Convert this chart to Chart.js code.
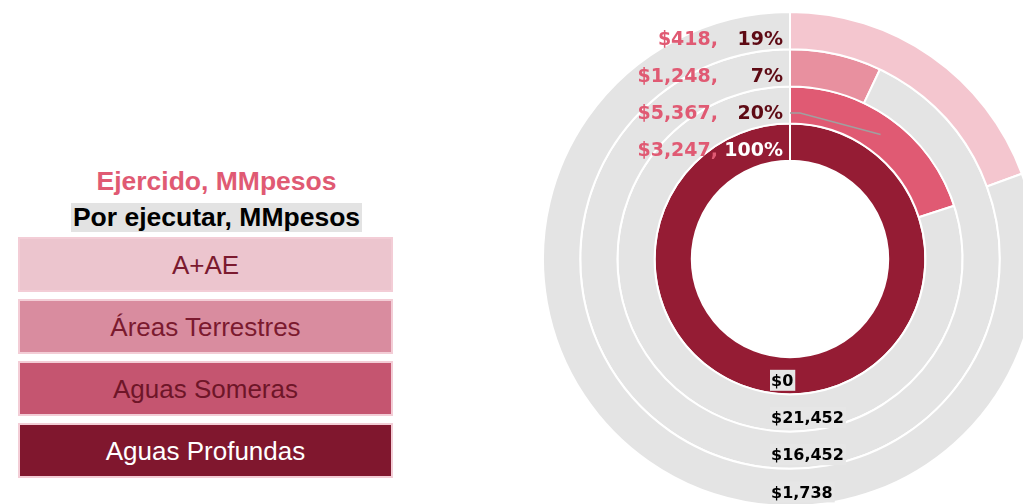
<!DOCTYPE html>
<html lang="es">
<head>
    <meta charset="UTF-8">
    <title>Ejercido vs por ejecutar</title>
    <script src="https://cdn.jsdelivr.net/npm/chart.js"></script>
    <style>
        html, body {
            margin: 0;
            padding: 0;
            width: 1023px;
            height: 504px;
            overflow: hidden;
            background: #fff;
            font-family: "Liberation Sans", Arial, sans-serif;
        }
        #titles {
            position: absolute;
            left: 40px;
            top: 165px;
            width: 353px;
        }
        #boxes {
            position: absolute;
            left: 18px;
            top: 237px;
            width: 375px;
        }
        .title1 {
            text-align: center;
            color: #e05a73;
            font-weight: bold;
            font-size: 26.5px;
            line-height: 32px;
        }
        .title2 {
            margin: 6px auto 0 auto;
            width: 291px;
            background: #e3e3e3;
            color: #000;
            font-weight: bold;
            font-size: 26.5px;
            line-height: 29px;
            text-align: center;
            white-space: nowrap;
        }
        .box {
            box-sizing: border-box;
            height: 55px;
            margin-bottom: 7px;
            border: 2px solid #f3cdd6;
            text-align: center;
            font-size: 26px;
            line-height: 52px;
        }
        #wrap {
            position: absolute;
            left: 540px;
            top: 9px;
            width: 500px;
            height: 500px;
        }
    </style>
</head>
<body>
    <div id="titles">
        <div class="title1">Ejercido, MMpesos</div>
        <div class="title2">Por ejecutar, MMpesos</div>
    </div>
    <div id="boxes"></div>
    <div id="wrap"><canvas id="rings" width="500" height="500"></canvas></div>
    <script>
        // rings from outside to inside
        const categories = ['A+AE', 'Áreas Terrestres', 'Aguas Someras', 'Aguas Profundas'];
        const ejercido = [418, 1248, 5367, 3247];
        const porEjecutar = [1738, 16452, 21452, 0];

        const ringColors = ['#f4c6cf', '#e8909f', '#e05a73', '#951c34'];
        const legendColors = ['#ecc5ce', '#d98c9f', '#c55570', '#80172e'];
        const legendText = ['#7b1a2f', '#7b1a2f', '#6e1528', '#ffffff'];
        const pctColors = ['#5e0a14', '#5e0a14', '#5e0a14', '#ffffff'];
        const grey = '#e4e4e4';
        const leaderRing = 2;

        const boxes = document.getElementById('boxes');
        categories.forEach((c, i) => {
            const d = document.createElement('div');
            d.className = 'box';
            d.style.background = legendColors[i];
            d.style.color = legendText[i];
            d.textContent = c;
            boxes.appendChild(d);
        });

        const fmt = v => '$' + v.toLocaleString('en-US');

        const ringLabels = {
            id: 'ringLabels',
            afterDatasetsDraw(chart) {
                const ctx = chart.ctx;
                ctx.save();
                chart.data.datasets.forEach((ds, i) => {
                    const arc = chart.getDatasetMeta(i).data[0];
                    const p = arc.getProps(['x', 'y', 'innerRadius', 'outerRadius'], true);
                    const mid = (p.innerRadius + p.outerRadius) / 2;
                    const ej = ejercido[i], pe = porEjecutar[i];
                    const pct = Math.round(ej / (ej + pe) * 100) + '%';

                    // top: ejercido + percent
                    const ty = p.y - mid + 9;
                    ctx.font = 'bold 19px "DejaVu Sans"';
                    ctx.textBaseline = 'middle';
                    ctx.textAlign = 'right';
                    ctx.fillStyle = pctColors[i];
                    ctx.fillText(pct, p.x - 7, ty);
                    ctx.fillStyle = '#e05a73';
                    ctx.fillText(fmt(ej) + ',', p.x - 72, ty);

                    if (i === leaderRing) {
                        const a = (ej / (ej + pe)) * Math.PI;
                        ctx.strokeStyle = '#a0a0a0';
                        ctx.lineWidth = 1.5;
                        ctx.beginPath();
                        ctx.moveTo(p.x, ty - 1);
                        ctx.lineTo(p.x + 10, ty - 1);
                        ctx.lineTo(p.x + Math.sin(a) * mid, p.y - Math.cos(a) * mid);
                        ctx.stroke();
                    }

                    // bottom: por ejecutar
                    const by = p.y + mid + 5;
                    ctx.font = 'bold 16px "DejaVu Sans"';
                    ctx.textAlign = 'left';
                    const txt = fmt(pe);
                    const w = ctx.measureText(txt).width;
                    ctx.fillStyle = '#e6e6e6';
                    ctx.fillRect(p.x - 20, by - 11, w + 3, 21);
                    ctx.fillStyle = '#000';
                    ctx.fillText(txt, p.x - 19, by + 1);
                });
                ctx.restore();
            }
        };

        new Chart(document.getElementById('rings'), {
            type: 'doughnut',
            data: {
                labels: ['Ejercido', 'Por ejecutar'],
                datasets: categories.map((c, i) => ({
                    label: c,
                    data: [ejercido[i], porEjecutar[i]],
                    backgroundColor: [ringColors[i], grey],
                    borderColor: '#ffffff',
                    borderWidth: 2
                }))
            },
            options: {
                responsive: false,
                animation: false,
                events: [],
                radius: 247,
                cutout: 99,
                plugins: {
                    legend: { display: false },
                    tooltip: { enabled: false }
                }
            },
            plugins: [ringLabels]
        });
    </script>
</body>
</html>
